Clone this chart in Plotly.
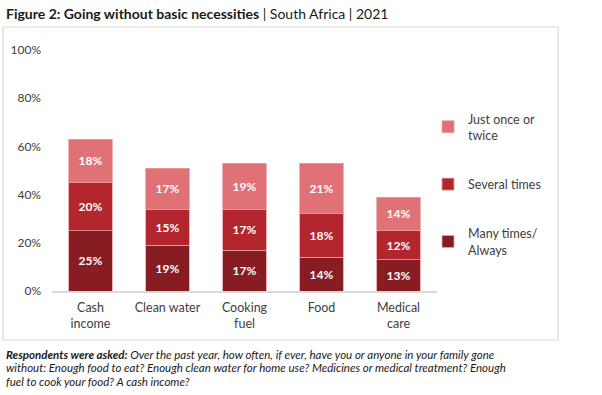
import plotly.graph_objects as go

categories = ["Cash<br>income", "Clean water", "Cooking<br>fuel", "Food", "Medical<br>care"]
many_times = [25, 19, 17, 14, 13]
several_times = [20, 15, 17, 18, 12]
just_once = [18, 17, 19, 21, 14]
series_names = ["Many times/<br>Always", "Several times", "Just once or<br>twice"]
colors = ["#871C22", "#B3262D", "#E07176"]
y_ticks = [0, 20, 40, 60, 80, 100]
y_tick_labels = ["0%", "20%", "40%", "60%", "80%", "100%"]
footnote_lines = [
    "<b>Respondents were asked:</b> Over the past year, how often, if ever, have you or anyone in your family gone",
    "without: Enough food to eat? Enough clean water for home use? Medicines or medical treatment? Enough",
    "fuel to cook your food? A cash income?",
]

FONT = "Lato"
fig = go.Figure()
for name, vals, col, rank in zip(series_names, [many_times, several_times, just_once], colors, [3, 2, 1]):
    fig.add_trace(go.Bar(
        x=categories, y=vals, name=name, legendgroup=name, legendrank=rank,
        marker=dict(color=col, line=dict(color="#E8A0A3", width=0.8)),
        text=[f"{v}%" for v in vals], textposition="inside", insidetextanchor="middle",
        textfont=dict(color="white", size=12, family=FONT),
        texttemplate="<b>%{text}</b>",
    ))

L, R, T, B = 52, 165, 50, 104
W, H = 602, 395
pw, ph = W - L - R, H - T - B

def px(x):
    return (x - L) / pw

def py(y):
    return (H - B - y) / ph

annotations = [
    dict(xref="paper", yref="paper", x=px(4), y=py(13), xanchor="left", yanchor="middle",
         showarrow=False, align="left",
         text="<b>Figure 2: Going without basic necessities</b> | South Africa | 2021",
         font=dict(size=14, family=FONT, color="#1a1a1a")),
]
for i, line in enumerate(footnote_lines):
    annotations.append(dict(xref="paper", yref="paper", x=px(4), y=py(354 + 13.6 * i),
                            xanchor="left", yanchor="middle", showarrow=False, align="left",
                            text=f"<i>{line}</i>",
                            font=dict(size=11.5, family=FONT, color="#1a1a1a")))

fig.update_layout(
    width=W, height=H, barmode="stack", bargap=0.44,
    margin=dict(l=L, r=R, t=T, b=B, autoexpand=False),
    paper_bgcolor="white", plot_bgcolor="white",
    font=dict(family=FONT, color="#404040", size=12),
    showlegend=True,
    legend=dict(x=px(428), y=py(104), xanchor="left", yanchor="top",
                traceorder="grouped", tracegroupgap=30,
                font=dict(size=12.5, family=FONT, color="#404040"),
                itemwidth=30, bgcolor="rgba(0,0,0,0)"),
    xaxis=dict(showline=True, linecolor="#D9D9D9", linewidth=1.5, ticks="",
               ticklabelstandoff=4,
               tickfont=dict(size=12.5, family=FONT, color="#404040"), fixedrange=True),
    yaxis=dict(range=[0, 100], tickvals=y_ticks, ticktext=y_tick_labels,
               showgrid=False, showline=False, zeroline=False, ticks="",
               ticklabelstandoff=10, fixedrange=True,
               tickfont=dict(size=12, family=FONT, color="#404040")),
    shapes=[dict(type="rect", xref="paper", yref="paper",
                 x0=px(3), x1=px(558), y0=py(340), y1=py(27),
                 line=dict(color="#D9D9D9", width=1.2), fillcolor="rgba(0,0,0,0)", layer="below")],
    annotations=annotations,
)

fig.write_html("out.html", config={"displayModeBar": False},
               post_script="document.body.style.margin='0';")
